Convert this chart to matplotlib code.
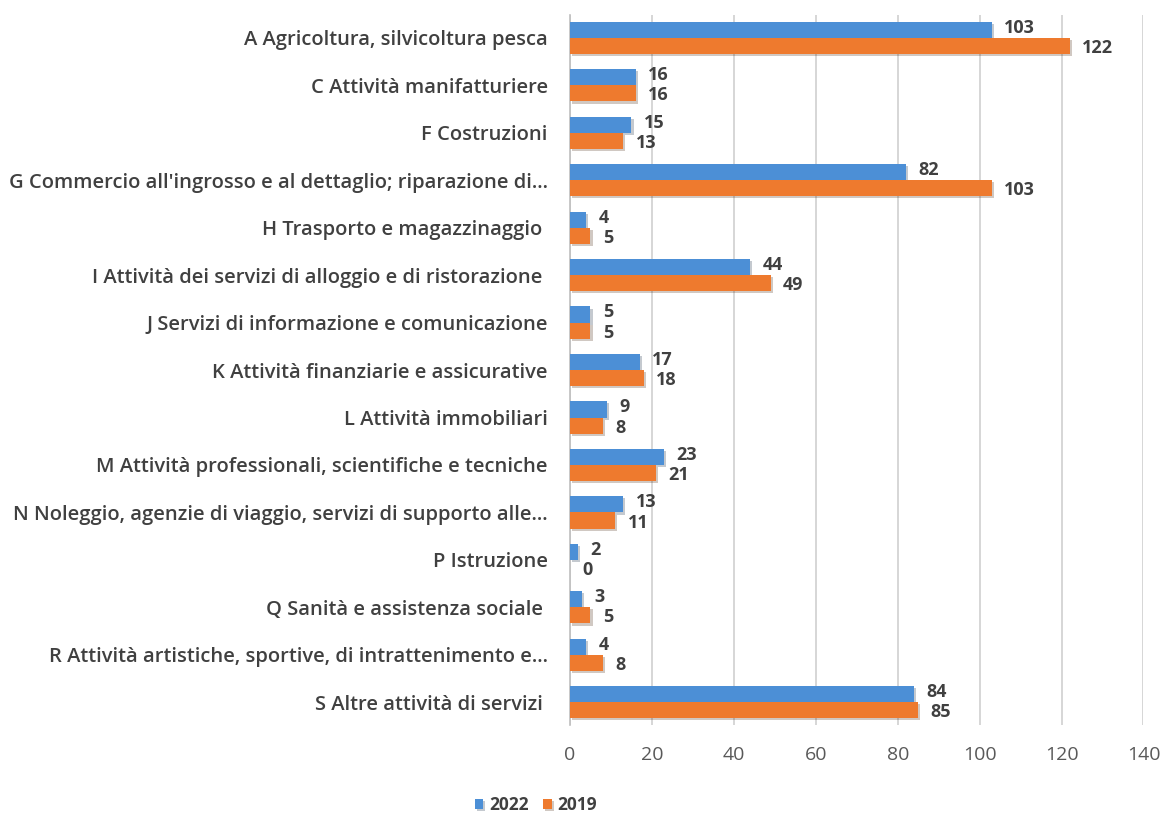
import matplotlib.pyplot as plt
import matplotlib.patheffects as pe
import numpy as np

# ── Data ──────────────────────────────────────────────────────────────────────
categories = [
    "A Agricoltura, silvicoltura pesca",
    "C Attività manifatturiere",
    "F Costruzioni",
    "G Commercio all'ingrosso e al dettaglio; riparazione di...",
    "H Trasporto e magazzinaggio ",
    "I Attività dei servizi di alloggio e di ristorazione ",
    "J Servizi di informazione e comunicazione",
    "K Attività finanziarie e assicurative",
    "L Attività immobiliari",
    "M Attività professionali, scientifiche e tecniche",
    "N Noleggio, agenzie di viaggio, servizi di supporto alle...",
    "P Istruzione",
    "Q Sanità e assistenza sociale ",
    "R Attività artistiche, sportive, di intrattenimento e...",
    "S Altre attività di servizi ",
]
vals_2022 = [103, 16, 15, 82, 4, 44, 5, 17, 9, 23, 13, 2, 3, 4, 84]
vals_2019 = [122, 16, 13, 103, 5, 49, 5, 18, 8, 21, 11, 0, 5, 8, 85]
series_labels = ["2022", "2019"]
xticks = [0, 20, 40, 60, 80, 100, 120, 140]

BLUE = "#4C8FD6"
ORANGE = "#EE7A2E"
TEXT = "#404040"

plt.rcParams["font.family"] = ["Open Sans", "DejaVu Sans"]

fig = plt.figure(figsize=(11.68, 8.16), dpi=100)
ax = fig.add_axes([0.488, 0.1115, 0.491, 0.870])

y = np.arange(len(categories))
h = 0.34
shadow = [pe.SimplePatchShadow(offset=(1.5, -1.5), alpha=0.25), pe.Normal()]

b1 = ax.barh(y - h / 2, vals_2022, height=h, color=BLUE, label=series_labels[0], zorder=3)
b2 = ax.barh(y + h / 2, vals_2019, height=h, color=ORANGE, label=series_labels[1], zorder=3)
for bars in (b1, b2):
    for p in bars:
        p.set_path_effects(shadow)

# value labels, stacked tightly as in the original
for yy, v in zip(y - h / 2, vals_2022):
    ax.annotate(f"{v}", (v, yy), xytext=(9, 1.5), textcoords="offset points",
                ha="left", va="center", fontsize=13, fontweight="bold", color=TEXT)
for yy, v in zip(y + h / 2, vals_2019):
    ax.annotate(f"{v}", (v, yy), xytext=(9, -1.5), textcoords="offset points",
                ha="left", va="center", fontsize=13, fontweight="bold", color=TEXT)

ax.set_xlim(0, 140)
ax.set_ylim(len(categories) - 0.52, -0.48)
ax.set_xticks(xticks)
ax.set_xticklabels([str(t) for t in xticks], fontsize=14, color="#595959")
ax.set_yticks(y)
ax.set_yticklabels(categories, fontsize=14.5, fontweight="semibold", color=TEXT)
ax.tick_params(axis="both", length=0)
ax.tick_params(axis="y", pad=16)
ax.tick_params(axis="x", pad=15)

ax.xaxis.grid(True, color="#D0D0D0", linewidth=1.2, zorder=0)
ax.set_axisbelow(True)
for s in ["top", "right", "bottom"]:
    ax.spines[s].set_visible(False)
ax.spines["left"].set_color("#BFBFBF")
ax.spines["left"].set_linewidth(1.2)

fig.legend(handles=[b1, b2], labels=series_labels, loc="center",
           bbox_to_anchor=(536 / 1168, 1 - 805 / 816), ncol=2, frameon=False,
           prop={"size": 12.5, "weight": "bold"}, handlelength=0.5, handleheight=0.5,
           handletextpad=0.35, columnspacing=0.8, labelcolor=TEXT)

fig.savefig("out.png", dpi=100, facecolor="white")
